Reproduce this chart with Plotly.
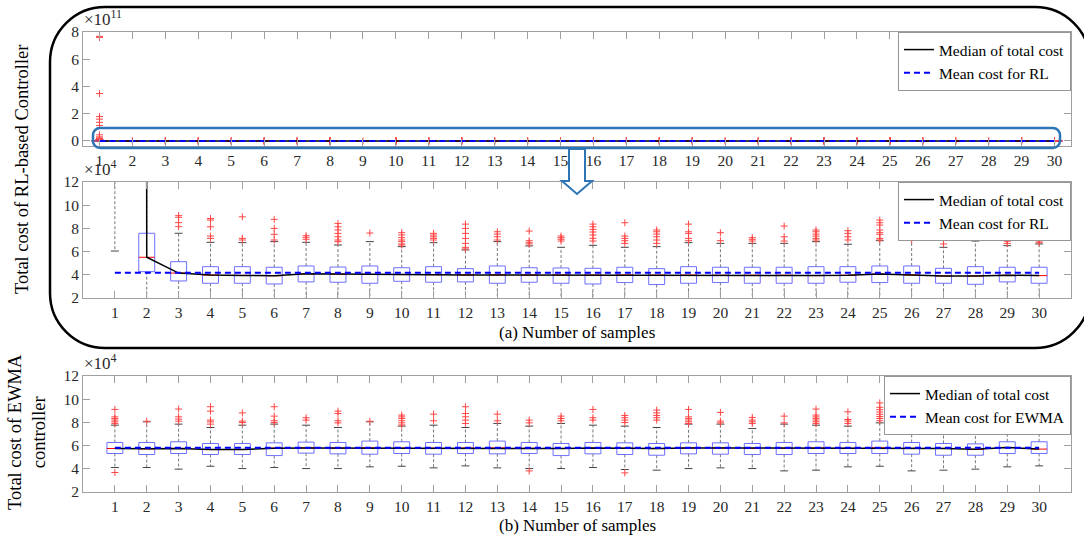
import plotly.graph_objects as go

# ---------------- data (cost values in units of 1e4) ----------------
samples = list(range(1, 31))

rl_q1 = [50, 4.27, 3.47, 3.27, 3.27, 3.21, 3.39, 3.36, 3.27, 3.44, 3.36, 3.39, 3.27, 3.36, 3.27,
         3.21, 3.33, 3.16, 3.27, 3.33, 3.27, 3.27, 3.27, 3.36, 3.33, 3.27, 3.27, 3.18, 3.39, 3.27]
rl_med = [3000, 5.51, 4.15, 3.98, 3.95, 3.92, 4.09, 4.06, 4.03, 4.02, 4.01, 3.99, 3.99, 3.98, 3.98,
          3.97, 3.98, 3.97, 3.97, 3.96, 3.96, 3.96, 3.93, 3.96, 4.06, 3.98, 3.90, 3.90, 3.96, 3.93]
rl_q3 = [1.0e5, 7.58, 5.13, 4.70, 4.70, 4.65, 4.76, 4.67, 4.76, 4.61, 4.70, 4.53, 4.76, 4.61, 4.59,
         4.56, 4.65, 4.53, 4.70, 4.65, 4.65, 4.65, 4.70, 4.70, 4.76, 4.76, 4.56, 4.70, 4.65, 4.65]
rl_hi = [1.0e6, 14.0, 7.58, 6.80, 6.77, 6.86, 6.80, 6.57, 6.86, 6.43, 6.77, 6.14, 6.86, 6.49, 6.37,
         6.54, 6.37, 6.43, 6.77, 6.71, 6.71, 6.71, 6.86, 6.63, 6.94, 7.00, 6.37, 6.91, 6.51, 6.66]
rl_lo = [6.05, 1.2, 1.5, 1.6, 1.5, 1.4, 1.6, 1.5, 1.6, 1.7, 1.5, 1.6, 1.5, 1.6, 1.5,
         1.4, 1.6, 1.3, 1.5, 1.6, 1.5, 1.6, 1.5, 1.6, 1.5, 1.6, 1.5, 1.3, 1.7, 1.5]
rl_out = [
    [7.68e7, 7.6e7, 3.48e7, 1.79e7, 1.6e7, 1.37e7, 1.13e7, 4.5e6, 3.0e6, 2.2e6, 1.8e6, 1.5e6, 1.2e6],
    [16.0, 22.0],
    [9.1, 8.96, 8.5, 8.15],
    [8.85, 8.72, 8.14, 7.34, 7.14],
    [9.0, 7.14, 7.0],
    [8.78, 8.0, 7.49, 7.0],
    [7.37, 7.23, 7.06],
    [8.43, 8.14, 7.86, 7.57, 7.28, 7.0, 6.86],
    [7.6],
    [7.63, 7.43, 7.2, 7.0, 6.86, 6.66, 6.57],
    [7.57, 7.43, 7.28, 7.14, 7.0],
    [8.37, 8.0, 7.57, 7.14, 6.71, 6.37, 6.23],
    [7.71, 7.51, 7.28, 7.0],
    [7.77, 6.94, 6.77, 6.66],
    [7.34, 7.2, 7.06, 6.91],
    [8.37, 8.14, 7.91, 7.69, 7.43, 7.14, 6.91],
    [8.49, 7.34, 7.14, 6.94, 6.71],
    [7.86, 7.71, 7.51, 7.28, 7.0, 6.71],
    [8.37, 7.71, 7.57, 7.14, 6.94],
    [7.63, 6.94],
    [7.2, 7.06, 6.91],
    [8.2, 7.28, 6.91],
    [7.86, 7.71, 7.51, 7.34, 7.14, 7.0],
    [7.8, 7.57, 7.28, 7.0],
    [8.72, 8.49, 8.29, 7.86, 7.63, 7.49, 7.14, 7.0],
    [8.0, 7.71, 7.14, 7.0],
    [8.43, 7.71, 6.66],
    [7.77, 7.63],
    [7.57, 7.4, 7.23, 7.06, 6.89, 6.71],
    [8.08, 7.71, 7.28, 7.06, 6.91, 6.77],
]
rl_mean = 4.17

ew_q1 = [5.32, 5.23, 5.32, 5.23, 5.23, 5.14, 5.35, 5.29, 5.26, 5.32, 5.26, 5.32, 5.29, 5.32, 5.14,
         5.29, 5.23, 5.17, 5.29, 5.26, 5.23, 5.23, 5.32, 5.32, 5.32, 5.26, 5.17, 5.17, 5.32, 5.32]
ew_med = [5.75, 5.72, 5.76, 5.66, 5.66, 5.78, 5.80, 5.79, 5.80, 5.79, 5.78, 5.79, 5.80, 5.77, 5.75,
          5.79, 5.78, 5.74, 5.80, 5.80, 5.77, 5.78, 5.79, 5.77, 5.81, 5.77, 5.76, 5.68, 5.84, 5.70]
ew_q3 = [6.27, 6.27, 6.33, 6.18, 6.18, 6.24, 6.30, 6.27, 6.39, 6.33, 6.27, 6.27, 6.39, 6.27, 6.18,
         6.27, 6.24, 6.18, 6.24, 6.24, 6.18, 6.27, 6.33, 6.27, 6.39, 6.27, 6.18, 6.15, 6.33, 6.33]
ew_hi = [7.76, 8.05, 7.85, 7.56, 7.76, 7.85, 7.76, 7.56, 8.05, 7.68, 7.76, 7.56, 7.91, 7.68, 7.91,
         7.76, 7.68, 7.56, 7.85, 7.85, 7.47, 7.85, 7.76, 7.68, 7.96, 7.76, 7.85, 7.62, 8.05, 7.76]
ew_lo = [4.11, 4.11, 3.97, 4.22, 4.02, 4.11, 4.02, 4.02, 4.17, 4.22, 4.08, 4.25, 4.08, 4.02, 4.02,
         4.11, 3.94, 3.88, 4.02, 4.08, 4.02, 3.82, 3.88, 4.17, 4.22, 3.82, 3.88, 3.97, 4.17, 4.25]
ew_out = [
    [9.12, 8.48, 8.34, 8.2, 8.05, 7.9, 3.68],
    [8.1],
    [9.15, 8.48, 8.28, 8.11],
    [9.35, 8.97, 8.2, 8.05, 7.85],
    [8.82, 8.11, 7.99],
    [9.35, 8.54, 8.14, 7.99],
    [8.4, 8.2],
    [8.97, 8.77, 8.14, 7.96],
    [8.1],
    [8.63, 8.48, 8.34, 8.14, 7.96, 7.78],
    [8.71, 8.14],
    [9.35, 8.77, 8.48, 8.2, 7.91],
    [8.71, 8.14],
    [8.2, 7.96, 3.82],
    [8.54, 8.34, 8.14],
    [9.12, 8.4, 8.2],
    [8.6, 8.4, 8.2, 7.99, 3.65],
    [9.06, 8.82, 8.6, 8.4, 8.2],
    [9.12, 8.48, 8.34, 8.2, 8.05, 7.91],
    [8.86, 8.11, 7.96],
    [8.43, 8.2, 8.05, 7.91],
    [8.54, 7.96],
    [9.15, 8.63, 8.48, 8.34, 8.2, 8.05, 7.91],
    [8.91, 8.25, 8.11, 7.91],
    [9.68, 9.3, 9.1, 8.9, 8.7, 8.5, 8.34, 8.14],
    [8.34, 8.14, 7.96],
    [8.25, 8.11],
    [8.25, 8.11],
    [8.71, 8.57, 8.4, 8.25],
    [8.48, 8.34, 8.2],
]
ew_mean = 5.82

y_ticks_top = [0, 2, 4, 6, 8]
y_ticks_low = [2, 4, 6, 8, 10, 12]

# ---------------- styling / layout helpers ----------------
W, H = 1084, 538
FONT = "Liberation Serif"
AX_GRAY = "rgb(160,160,160)"
TXT = "rgb(40,40,40)"
BOX_BLUE = "rgb(110,110,255)"
OUT_RED = "rgb(255,70,70)"
HL_BLUE = "rgb(46,117,182)"
BW = 0.25   # half box width (x units)
CW = 0.125  # half cap width


def fx(p):
    return p / W


def fy(p):
    return 1 - p / H


fig = go.Figure()


def add_boxes(xa, ya, q1, med, q3, lo, hi, outl, scale):
    wx, wy, cx, cy, bx, by, mx, my, ox, oy = [], [], [], [], [], [], [], [], [], []
    for i, s in enumerate(samples):
        a, m, b, l, h = q1[i] * scale, med[i] * scale, q3[i] * scale, lo[i] * scale, hi[i] * scale
        wx += [s, s, None, s, s, None]
        wy += [b, h, None, a, l, None]
        cx += [s - CW, s + CW, None, s - CW, s + CW, None]
        cy += [h, h, None, l, l, None]
        bx += [s - BW, s + BW, s + BW, s - BW, s - BW, None]
        by += [a, a, b, b, a, None]
        mx += [s - BW, s + BW, None]
        my += [m, m, None]
        for v in outl[i]:
            ox.append(s)
            oy.append(v * scale)
    common = dict(xaxis=xa, yaxis=ya, showlegend=False, hoverinfo="skip", mode="lines")
    fig.add_trace(go.Scatter(x=wx, y=wy, line=dict(color="rgb(120,120,120)", width=1, dash="3px,2px"), **common))
    fig.add_trace(go.Scatter(x=cx, y=cy, line=dict(color="rgb(70,70,70)", width=1), **common))
    fig.add_trace(go.Scatter(x=bx, y=by, line=dict(color=BOX_BLUE, width=1), **common))
    fig.add_trace(go.Scatter(x=mx, y=my, line=dict(color="red", width=1), **common))
    fig.add_trace(go.Scatter(x=ox, y=oy, mode="markers", xaxis=xa, yaxis=ya, showlegend=False, hoverinfo="skip",
                             marker=dict(symbol="cross-thin-open", size=5, line=dict(color=OUT_RED, width=1),
                                         color=OUT_RED)))


def add_lines(xa, ya, med, mean, scale, legend, mean_name):
    fig.add_trace(go.Scatter(x=samples, y=[v * scale for v in med], mode="lines", xaxis=xa, yaxis=ya,
                             name="Median of total cost", legend=legend,
                             line=dict(color="black", width=1.5)))
    fig.add_trace(go.Scatter(x=[samples[0], samples[-1]], y=[mean * scale, mean * scale], mode="lines",
                             xaxis=xa, yaxis=ya, name=mean_name, legend=legend,
                             line=dict(color="rgb(0,0,255)", width=2, dash="6px,4px")))


# top panel: RL in units of 1e11; middle: RL in 1e4; bottom: EWMA in 1e4
add_boxes("x", "y", rl_q1, rl_med, rl_q3, rl_lo, rl_hi, rl_out, 1e-7)
add_lines("x", "y", rl_med, rl_mean, 1e-7, "legend", "Mean cost for RL")
add_boxes("x2", "y2", rl_q1, rl_med, rl_q3, rl_lo, rl_hi, rl_out, 1.0)
add_lines("x2", "y2", rl_med, rl_mean, 1.0, "legend2", "Mean cost for RL")
add_boxes("x3", "y3", ew_q1, ew_med, ew_q3, ew_lo, ew_hi, ew_out, 1.0)
add_lines("x3", "y3", ew_med, ew_mean, 1.0, "legend3", "Mean cost for EWMA")

tickfont = dict(family=FONT, size=15.5, color=TXT)
axcommon = dict(showline=True, linecolor=AX_GRAY, linewidth=1, mirror="ticks", ticks="inside",
                ticklen=7, tickcolor=AX_GRAY, showgrid=False, zeroline=False, tickfont=tickfont)

xdom = [fx(83), fx(1071)]
fig.update_layout(
    xaxis=dict(domain=xdom, range=[0.5, 30.5], anchor="y", tickmode="array", tickvals=samples, **axcommon),
    yaxis=dict(domain=[fy(146), fy(32)], range=[-0.37, 8.0], anchor="x", tickmode="array",
               tickvals=y_ticks_top, **axcommon),
    xaxis2=dict(domain=xdom, range=[0, 31], anchor="y2", tickmode="array", tickvals=samples, **axcommon),
    yaxis2=dict(domain=[fy(298), fy(182)], range=[2, 12], anchor="x2", tickmode="array",
                tickvals=y_ticks_low, **axcommon),
    xaxis3=dict(domain=xdom, range=[0, 31], anchor="y3", tickmode="array", tickvals=samples, **axcommon),
    yaxis3=dict(domain=[fy(492), fy(376)], range=[2, 12], anchor="x3", tickmode="array",
                tickvals=y_ticks_low, **axcommon),
)

legcommon = dict(xanchor="right", yanchor="top", bgcolor="white", bordercolor="rgb(150,150,150)",
                 borderwidth=1, font=dict(family=FONT, size=15.5, color="black"), itemwidth=30,
                 tracegroupgap=0)
fig.update_layout(
    legend=dict(x=fx(1071), y=fy(32), **legcommon),
    legend2=dict(x=fx(1071), y=fy(182), **legcommon),
    legend3=dict(x=fx(1071), y=fy(376), **legcommon),
)

# annotations: exponents and axis titles
ann = []
for ytop, expo in [(32, "11"), (182, "4"), (376, "4")]:
    ann.append(dict(x=fx(82), y=fy(ytop - 1), xref="paper", yref="paper", xanchor="left", yanchor="bottom",
                    text="×10<sup>" + expo + "</sup>", showarrow=False,
                    font=dict(family=FONT, size=17, color=TXT)))
ann.append(dict(x=fx(22), y=fy(170), xref="paper", yref="paper", xanchor="center", yanchor="middle",
                textangle=-90, showarrow=False,
                text="Total cost of RL-based Controller", font=dict(family=FONT, size=18.5, color="black")))
ann.append(dict(x=fx(27), y=fy(432), xref="paper", yref="paper", xanchor="center", yanchor="middle",
                textangle=-90, showarrow=False,
                text="Total cost of EWMA<br>controller", font=dict(family=FONT, size=18.5, color="black")))
ann.append(dict(x=fx(577), y=fy(332), xref="paper", yref="paper", xanchor="center", yanchor="middle",
                showarrow=False, text="(a) Number of samples", font=dict(family=FONT, size=17, color="black")))
ann.append(dict(x=fx(577), y=fy(525), xref="paper", yref="paper", xanchor="center", yanchor="middle",
                showarrow=False, text="(b) Number of samples", font=dict(family=FONT, size=17, color="black")))


def rounded_path(l, t, r, b, rad):
    k = 0.5523 * rad

    def P(x, y):
        return f"{fx(x):.5f},{fy(y):.5f}"
    return (f"M {P(l + rad, t)} L {P(r - rad, t)} C {P(r - rad + k, t)} {P(r, t + rad - k)} {P(r, t + rad)} "
            f"L {P(r, b - rad)} C {P(r, b - rad + k)} {P(r - rad + k, b)} {P(r - rad, b)} "
            f"L {P(l + rad, b)} C {P(l + rad - k, b)} {P(l, b - rad + k)} {P(l, b - rad)} "
            f"L {P(l, t + rad)} C {P(l, t + rad - k)} {P(l + rad - k, t)} {P(l + rad, t)} Z")


arrow_pts = [(569, 149), (585, 149), (585, 181), (592, 181), (577, 194), (562, 181), (569, 181)]
arrow_path = "M " + " L ".join(f"{fx(x):.5f},{fy(y):.5f}" for x, y in arrow_pts) + " Z"

shapes = [
    dict(type="path", xref="paper", yref="paper", path=rounded_path(50, 7, 1090, 348, 55),
         line=dict(color="black", width=2.5), layer="above"),
    dict(type="path", xref="paper", yref="paper", path=rounded_path(93, 128, 1060, 148, 7),
         line=dict(color=HL_BLUE, width=2.5), layer="above"),
    dict(type="path", xref="paper", yref="paper", path=arrow_path, fillcolor="white",
         line=dict(color=HL_BLUE, width=2), layer="above"),
]

fig.update_layout(
    width=W, height=H,
    margin=dict(l=0, r=0, t=0, b=0, autoexpand=False),
    paper_bgcolor="white", plot_bgcolor="white",
    annotations=ann, shapes=shapes,
    font=dict(family=FONT),
)

fig.write_html("out.html")
